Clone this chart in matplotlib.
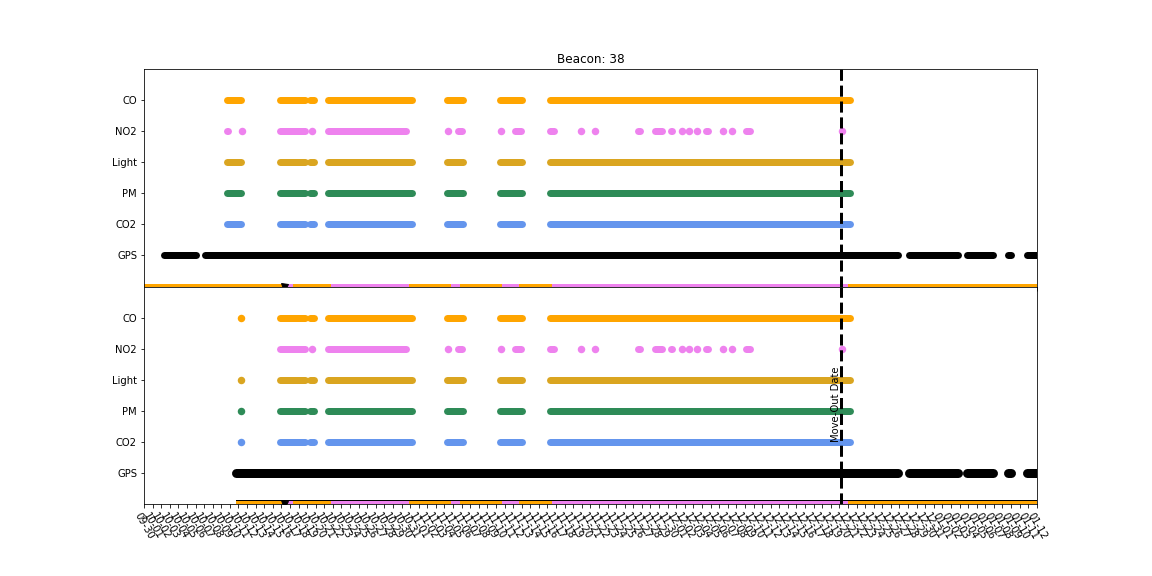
import pandas as pd
import matplotlib
matplotlib.use("Agg")
import matplotlib.pyplot as plt

beacon = 38
sensors = ["GPS", "CO2", "PM", "Light", "NO2", "CO"]
colors = ["black", "cornflowerblue", "seagreen", "goldenrod", "violet", "orange"]

start_date = "2020-09-30"
end_date = "2021-01-12"
move_out = "2020-12-20 04:00"

# CO, Light, PM and CO2 share the same coverage
iaq_spans_top = [("2020-10-09 16:00", "2020-10-11 07:00"),
                 ("2020-10-15 21:00", "2020-10-18 18:00"),
                 ("2020-10-19 09:00", "2020-10-19 18:00"),
                 ("2020-10-21 11:00", "2020-10-31 06:00"),
                 ("2020-11-04 08:00", "2020-11-06 05:00"),
                 ("2020-11-10 12:00", "2020-11-13 02:00"),
                 ("2020-11-16 08:00", "2020-12-21 07:00")]
iaq_spans_bottom = iaq_spans_top[1:]
iaq_points_bottom = ["2020-10-11 06:00"]

no2_spans_top = [("2020-10-09 16:00", "2020-10-09 19:00"),
                 ("2020-10-15 21:00", "2020-10-18 18:00"),
                 ("2020-10-21 11:00", "2020-10-30 13:00"),
                 ("2020-11-05 15:00", "2020-11-06 02:00"),
                 ("2020-11-12 06:00", "2020-11-12 23:00"),
                 ("2020-11-16 08:00", "2020-11-16 17:00"),
                 ("2020-11-26 12:00", "2020-11-26 20:00"),
                 ("2020-11-28 14:00", "2020-11-29 09:00"),
                 ("2020-11-30 08:00", "2020-11-30 13:00"),
                 ("2020-12-04 12:00", "2020-12-04 18:00"),
                 ("2020-12-09 02:00", "2020-12-09 13:00")]
no2_spans_bottom = no2_spans_top[1:]
no2_points = ["2020-10-11 09:00", "2020-10-19 15:00", "2020-11-04 09:00",
              "2020-11-10 14:00", "2020-11-19 21:00", "2020-11-21 12:00",
              "2020-12-01 16:00", "2020-12-02 13:00", "2020-12-03 09:00",
              "2020-12-06 11:00", "2020-12-07 12:00", "2020-12-20 08:00"]

gps_spans_top = [("2020-10-02 08:00", "2020-10-06 01:00"),
                 ("2020-10-07 03:00", "2020-12-26 19:00"),
                 ("2020-12-28 02:00", "2021-01-02 19:00"),
                 ("2021-01-03 20:00", "2021-01-06 21:00"),
                 ("2021-01-08 15:00", "2021-01-08 23:00"),
                 ("2021-01-10 20:00", "2021-01-13 00:00")]
gps_spans_bottom = [("2020-10-10 17:00", "2020-12-26 19:00")] + gps_spans_top[2:]

# status strip along the bottom of each panel
strip_edges = ["2020-09-30 00:00", "2020-10-16 16:00", "2020-10-17 09:00",
               "2020-10-21 19:00", "2020-10-30 22:00", "2020-11-04 19:00",
               "2020-11-05 20:00", "2020-11-10 18:00", "2020-11-12 17:00",
               "2020-11-16 14:00", "2020-12-21 00:00", "2021-01-12 00:00"]
strip_colors = ["orange", "violet", "orange", "violet", "orange", "violet",
                "orange", "violet", "orange", "violet", "orange"]
strip_marker = "2020-10-16 08:00"


def draw_spans(ax, spans, y, color, lw=7):
    for s, e in spans:
        ax.plot(pd.to_datetime([s, e]), [y, y], color=color, lw=lw,
                solid_capstyle="round")


def draw_points(ax, points, y, color, ms=7.5):
    ax.plot(pd.to_datetime(points), [y] * len(points), "o", color=color,
            ms=ms, mew=0)


def draw_strip(ax, first=None):
    edges = pd.to_datetime(strip_edges)
    if first is not None:
        first = pd.Timestamp(first)
        ax.plot([first, edges[-1]], [-1, -1], color="black", lw=8,
                solid_capstyle="butt")
    for i, c in enumerate(strip_colors):
        a, b = edges[i], edges[i + 1]
        if first is not None:
            if b <= first:
                continue
            a = max(a, first)
        ax.plot([a, b], [-1, -1], color=c, lw=6, solid_capstyle="butt")
    ax.plot(pd.Timestamp(strip_marker), -1, "v", color="black", ms=7)


fig, (ax1, ax2) = plt.subplots(2, 1, sharex=True, figsize=(16, 8), dpi=72)
plt.subplots_adjust(left=0.125, right=0.9, top=0.88, bottom=0.125, hspace=0)

panels = [(ax1, iaq_spans_top, [], no2_spans_top, no2_points, gps_spans_top, None, 7),
          (ax2, iaq_spans_bottom, iaq_points_bottom, no2_spans_bottom,
           no2_points[1:], gps_spans_bottom, gps_spans_bottom[0][0], 9)]

for ax, iaq, iaq_pts, no2, no2_pts, gps, strip_start, gps_lw in panels:
    draw_strip(ax, strip_start)
    draw_spans(ax, gps, 0, colors[0], lw=gps_lw)
    for k in [1, 2, 3, 5]:
        draw_spans(ax, iaq, k, colors[k])
        if iaq_pts:
            draw_points(ax, iaq_pts, k, colors[k])
    draw_spans(ax, no2, 4, colors[4])
    draw_points(ax, no2_pts, 4, colors[4])
    ax.axvline(pd.Timestamp(move_out), color="black", lw=3, ls="--")
    ax.set_yticks(range(len(sensors)))
    ax.set_yticklabels(sensors)
    ax.set_ylim(-1, 6)

ax2.text(pd.Timestamp(move_out), 1, "Move-Out Date", rotation=90,
         ha="right", va="bottom")

ticks = pd.date_range(start_date, end_date, freq="D")
ax2.set_xlim(ticks[0], ticks[-1])
ax2.set_xticks(ticks)
ax2.set_xticklabels(ticks.strftime("%m-%d"), rotation=-60)
ax1.set_title(f"Beacon: {beacon}")

fig.savefig("out.png", dpi=72)
